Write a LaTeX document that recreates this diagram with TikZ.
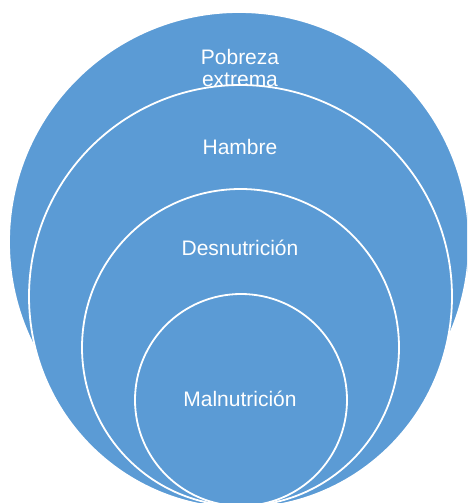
\documentclass[tikz,border=0pt]{standalone}
\usepackage{fontspec}
\setmainfont{Liberation Sans}
\usepackage{tikz}
\definecolor{ringblue}{RGB}{91,155,213}

\begin{document}
\begin{tikzpicture}[x=0.5pt,y=-0.5pt,
  ring/.style={circle,fill=ringblue,draw=white,line width=0.9pt,inner sep=0pt,outer sep=0pt},
  ring label/.style={text=white,font=\fontsize{10.5}{11}\selectfont,align=center,anchor=base}]

  \useasboundingbox (0,0) rectangle (467,503);
  \clip (0,0) rectangle (467,503);

  % rings, outermost first, each one over the label of the last
  \node[ring,minimum size=230pt] (pobreza) at (239,242) {};
  \node[ring label] (lpobreza) at (240,86) {Pobreza\\extrema};

  \node[ring,minimum size=211.5pt] (hambre) at (240.5,296.5) {};
  \node[ring label] (lhambre) at (240,154) {Hambre};

  \node[ring,minimum size=158.5pt] (desnutricion) at (240.5,347.5) {};
  \node[ring label] (ldesnutricion) at (240,255) {Desnutrición};

  \node[ring,minimum size=106pt] (malnutricion) at (241,400) {};
  \node[ring label] (lmalnutricion) at (240,406.5) {Malnutrición};
\end{tikzpicture}
\end{document}
